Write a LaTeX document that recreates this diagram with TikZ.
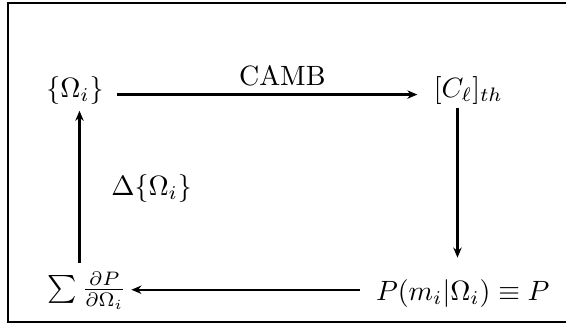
\documentclass[tikz,border=0pt]{standalone}
\usetikzlibrary{arrows.meta, positioning}

\begin{document}
\begin{tikzpicture}[
        term/.style={
            inner sep=1pt,
            anchor=base
        },
        label/.style={
            inner sep=1pt
        },
        arrow/.style={
            -{Stealth[length=3.6pt, width=3pt]},
            line width=0.8pt
        }
    ]
    \useasboundingbox (0,0) rectangle (7.13,4.08);

    % Frame (runs past the right edge)
    \draw[line width=0.8pt] (0.10,0.025) rectangle (7.25,4.045);

    % Terms of the loop
    \node[term] (omega) at (0.945,2.85) {$\{\Omega_i\}$};
    \node[term] (cl) at (5.90,2.85) {$[C_\ell]_{th}$};
    \node[term] (like) at (5.83,0.30) {$P(m_i|\Omega_i)\equiv P$};
    \node[term] (grad) at (1.10,0.34) {$\sum\frac{\partial P}{\partial\Omega_i}$};

    % Arrows round the loop
    \draw[arrow] ([xshift=3.7pt, yshift=1.1pt]omega.base east) -- node[label, above=1.8pt, pos=0.55] (camb) {CAMB} ([xshift=-4.7pt, yshift=1.1pt]cl.base west);
    \draw[arrow, shorten >=6.5pt] ([xshift=-3.9pt]cl.south) -- ([xshift=-3.9pt]cl.south |- like.north);
    \draw[arrow, shorten <=4.5pt, shorten >=0.5pt] ([yshift=3.7pt]like.base west) -- ([yshift=3.7pt]like.base west -| grad.east);
    \draw[arrow, shorten <=2.2pt, shorten >=1pt] ([xshift=-2.8pt]grad.north) -- node[label, right=10pt] (delta) {$\Delta\{\Omega_i\}$} ([xshift=-2.8pt]grad.north |- omega.south);

\end{tikzpicture}
\end{document}
